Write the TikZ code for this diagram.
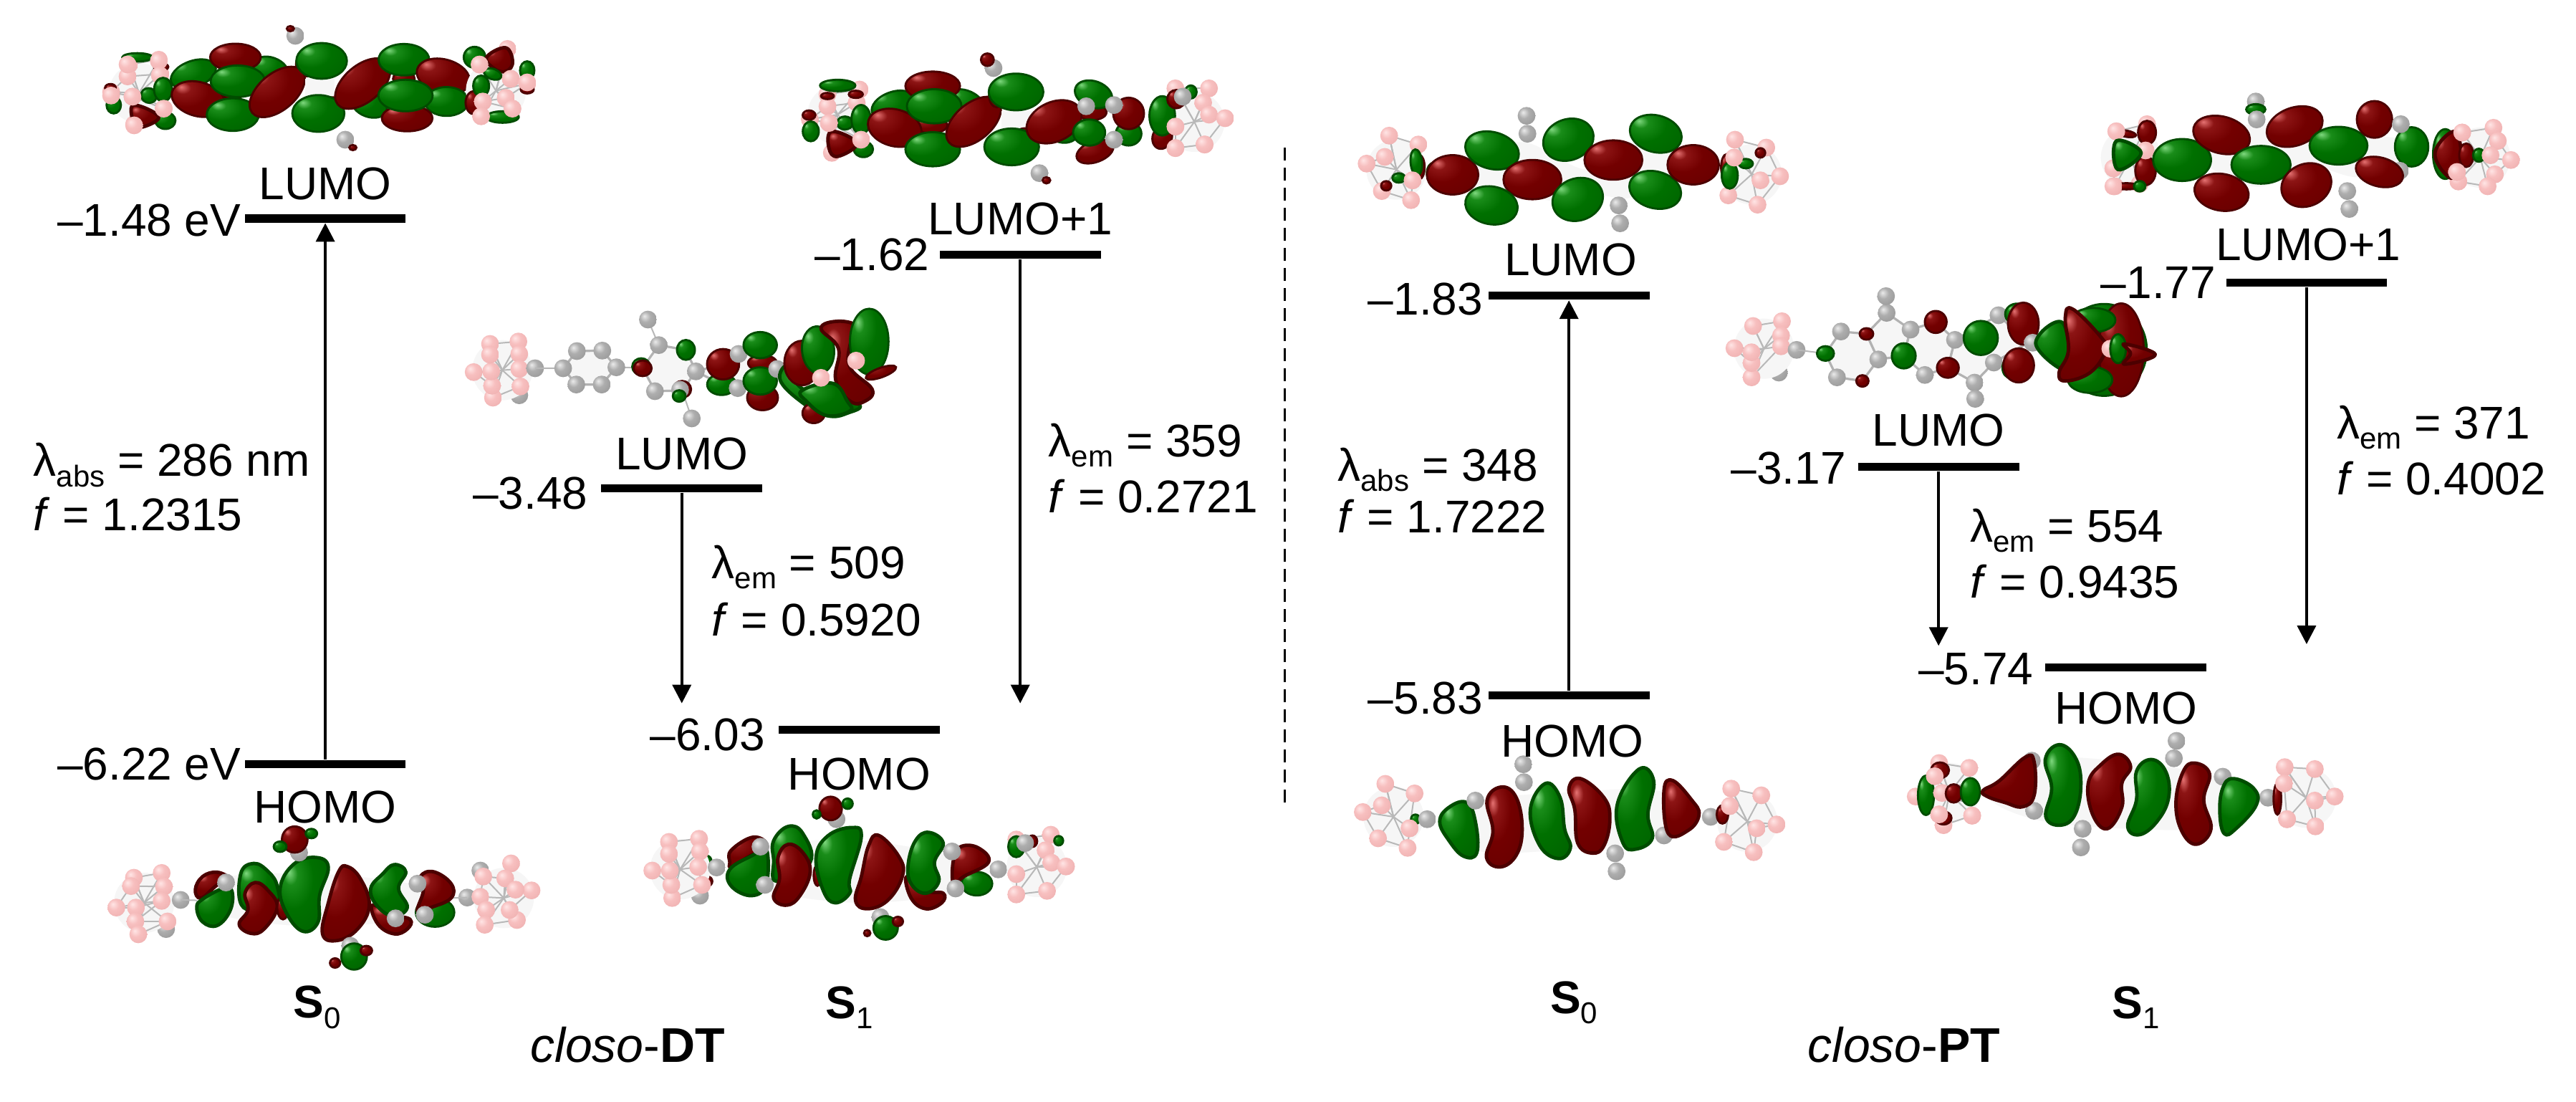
\documentclass[tikz,border=0pt]{standalone}
\usepackage{fontspec}
\setmainfont{Liberation Sans}
\usetikzlibrary{arrows.meta}
\definecolor{cagebg}{HTML}{F6F6F6}
\definecolor{rimg}{rgb}{0,.3,0}
\definecolor{rimr}{rgb}{.3,0,0}
\pgfdeclareradialshading{lg}{\pgfpoint{-15bp}{15bp}}{rgb(0bp)=(.5,.85,.5);rgb(7bp)=(.1,.55,.1);rgb(20bp)=(0,.44,0);rgb(45bp)=(0,.38,0);rgb(72bp)=(0,.2,0)}
\pgfdeclareradialshading{lr}{\pgfpoint{-15bp}{15bp}}{rgb(0bp)=(.9,.45,.45);rgb(7bp)=(.55,.08,.08);rgb(20bp)=(.45,0,0);rgb(45bp)=(.4,0,0);rgb(72bp)=(.2,0,0)}
\pgfdeclareradialshading{lp}{\pgfpoint{-10bp}{10bp}}{rgb(0bp)=(1,.9,.9);rgb(15bp)=(.97,.75,.75);rgb(40bp)=(.93,.68,.68);rgb(65bp)=(.72,.5,.5)}
\pgfdeclareradialshading{lgy}{\pgfpoint{-10bp}{10bp}}{rgb(0bp)=(.92,.92,.92);rgb(15bp)=(.68,.68,.68);rgb(40bp)=(.58,.58,.58);rgb(65bp)=(.35,.35,.35)}
\def\atr{3.1pt}
\newcommand\G[5]{\path[draw=rimg,line width=.7pt,shading=lg,shift={(#1,#2)},rotate=#5] (0,0) ellipse [x radius=#3*1.1,y radius=#4*1.1];}
\newcommand\R[5]{\path[draw=rimr,line width=.7pt,shading=lr,shift={(#1,#2)},rotate=#5] (0,0) ellipse [x radius=#3*1.1,y radius=#4*1.1];}
\newcommand\BG[1]{\path[draw=rimg,line width=1.2pt,line join=round,shading=lg] plot[smooth cycle,tension=.7] coordinates {#1};}
\newcommand\BR[1]{\path[draw=rimr,line width=1.2pt,line join=round,shading=lr] plot[smooth cycle,tension=.7] coordinates {#1};}
\newcommand\Pk[1]{\foreach \x/\y in {#1}{\path[shading=lp] (\x,\y) circle[radius=\atr];}}
\newcommand\Gy[1]{\foreach \x/\y in {#1}{\path[shading=lgy] (\x,\y) circle[radius=\atr];}}
\newcommand\cageb[3]{\fill[cagebg] (#1,#2) circle[radius=10.5pt];
 \foreach \x/\y [remember=\x as \px (initially #1),remember=\y as \py (initially #2)] in {#3}{
  \draw[bondl] (#1,#2)--(\x,\y); \draw[bondl] (\px,\py)--(\x,\y);}
 \Pk{#3}}
\newcommand\back[1]{\fill[cagebg] plot[smooth cycle,tension=.6] coordinates {#1};}
\newcommand\sbt[1]{\raisebox{-.22em}{\fontsize{10.5}{10}\selectfont #1}}
\tikzset{
 orb/.style n args={3}{shift={({#1*.25pt},{-#2*.25pt})},x={#3*.25pt/1568},y=-.08333pt},
 bondl/.style={draw=black!28,line width=.5pt},
 ringst/.style={fill=cagebg,draw=black!30,line width=.8pt},
 lvl/.style={fill=black,inner sep=0pt,minimum width=56.2pt,minimum height=2.8pt,rectangle},
 arr/.style={line width=1pt,-{Triangle[length=6.5pt,width=6.5pt]}},
 txt/.style={inner sep=0pt,font=\fontsize{16}{16}\selectfont},
 ttl/.style={inner sep=0pt,font=\fontsize{17}{17}\selectfont},
 lab/.style={txt,anchor=west},
 val/.style={txt,anchor=east},
 sepline/.style={line width=.7pt,dash pattern=on 4.5pt off 2.5pt}
}
\begin{document}
\begin{tikzpicture}[x=.573342pt,y=-.573342pt]
\path[use as bounding box,fill=white] (0,0) rectangle (1568,670.6);

% ---------- orbital 1: DT S0 LUMO
\begin{scope}[orb={100}{0}{720}]
\cageb{205}{390}{175/270,265/250,270/310,170/320,120/385,185/405,280/455,190/520}
\G{200}{240}{42}{16}{0}\R{272}{280}{20}{14}{0}\G{128}{440}{20}{32}{0}\R{118}{368}{15}{15}{0}
\Pk{170/270,265/255,268/315,120/400}
\G{235}{400}{22}{28}{-20}\G{278}{375}{25}{45}{0}\G{285}{505}{28}{32}{0}
\BR{(190,440) (265,490) (205,535) (185,500)}
\Pk{185/405,280/455,190/525}
\G{605}{290}{50}{45}{-20}\R{715}{270}{30}{45}{0}\R{490}{385}{30}{30}{0}
\G{370}{310}{65}{50}{20}\R{385}{415}{75}{65}{-15}
\R{498}{240}{70}{52}{0}\G{505}{340}{75}{60}{0}\G{490}{480}{72}{62}{0}
\R{625}{385}{90}{70}{40}
\fill[cagebg] (710,330) rectangle (800,410);
\G{760}{255}{70}{68}{0}\R{790}{440}{30}{30}{0}\G{750}{475}{72}{70}{0}
\G{905}{440}{50}{45}{-20}\R{1010}{330}{30}{30}{0}
\R{885}{350}{90}{70}{40}\G{1010}{250}{70}{60}{0}\R{1130}{320}{75}{65}{-15}
\G{1140}{425}{60}{55}{0}\R{1020}{495}{70}{50}{0}\G{1015}{400}{75}{60}{0}
\Gy{680/150,832/585}
\R{665}{120}{10}{10}{0}\R{855}{618}{10}{10}{0}
\cageb{1290}{380}{1325/205,1240/270,1335/330,1385/350,1320/410,1250/425,1340/455,1245/485}
\R{1225}{430}{25}{45}{0}\G{1225}{240}{30}{40}{0}
\BR{(1260,245) (1320,200) (1340,270) (1305,300)}
\G{1385}{295}{20}{35}{0}\G{1280}{310}{25}{20}{-20}\G{1245}{360}{22}{40}{0}\G{1310}{490}{45}{22}{0}\R{1385}{375}{18}{15}{0}
\Pk{1240/270,1335/330,1385/345,1320/410,1250/425,1340/455,1245/487}
\end{scope}

% ---------- orbital 2: DT S0 HOMO
\begin{scope}[orb={140}{1120}{640}]
\Gy{225/530}
\cageb{150}{420}{115/315,210/295,218/352,105/350,55/440,122/440,210/412,120/498,230/498,130/552}
\Gy{275/408,1255/398}
\draw[bondl] (275,408)--(340,410) (1255,398)--(1200,400);
\back{(330,400) (440,310) (760,300) (1060,340) (1200,400) (1080,480) (760,520) (440,480)}
\BR{(325,365) (350,310) (400,292) (440,320) (400,345) (345,400)}
\BG{(330,440) (350,405) (420,360) (450,370) (445,450) (400,515) (350,500)}
\Gy{430/335}
\BG{(480,300) (525,255) (575,290) (605,350) (600,430) (490,440)}
\BR{(495,380) (530,335) (575,370) (605,440) (560,530) (515,548) (475,510) (505,450)}
\R{625}{440}{18}{45}{0}
\BG{(615,360) (660,260) (735,230) (780,270) (750,390) (745,500) (695,540) (640,470)}
\BR{(815,290) (845,268) (890,320) (920,430) (880,530) (810,578) (760,550) (780,420)}
\BR{(930,430) (1000,470) (1060,490) (1050,530) (1005,550) (950,510)}
\BG{(925,360) (965,300) (1005,260) (1045,290) (1020,360) (1050,440) (1000,475) (945,430)}
\G{1145}{460}{60}{55}{0}
\BR{(1095,310) (1140,290) (1200,340) (1200,400) (1130,440) (1085,455) (1105,370)}
\Gy{1085/340,1110/470,1010/485}
\Gy{680/210}
\R{665}{155}{40}{50}{0}\G{722}{130}{18}{18}{0}\G{615}{185}{20}{20}{0}
\Gy{855/600}
\G{868}{645}{40}{50}{0}\R{910}{620}{18}{18}{0}\R{803}{672}{16}{18}{0}
\Gy{1300/285}
\cageb{1380}{400}{1405/255,1385/318,1310/310,1300/395,1320/450,1315/512,1425/492,1400/450,1475/368,1420/365}
\end{scope}

% ---------- orbital 3: DT S1 LUMO+1
\begin{scope}[orb={1100}{60}{640}]
\cageb{170}{300}{135/215,245/195,235/250,135/265,75/320,140/335,250/405,150/460}
\G{170}{178}{55}{22}{0}\R{135}{222}{20}{12}{0}\R{232}{215}{22}{14}{0}\R{72}{302}{20}{18}{0}\G{78}{370}{25}{38}{0}
\G{195}{335}{25}{25}{0}\G{250}{320}{30}{55}{0}\G{258}{445}{30}{30}{0}
\BR{(150,370) (235,420) (170,475) (140,440)}
\Pk{140/335,250/405}
\G{610}{250}{60}{45}{-25}\R{490}{345}{50}{30}{0}
\G{360}{260}{70}{50}{20}\R{365}{355}{85}{70}{-15}
\R{495}{180}{85}{55}{0}\G{500}{265}{85}{65}{0}\G{495}{445}{85}{65}{0}
\R{635}{330}{100}{70}{40}
\fill[cagebg] (730,285) rectangle (840,365);
\R{715}{220}{25}{45}{0}\G{780}{205}{85}{70}{0}\R{810}{390}{30}{30}{0}\G{765}{435}{85}{70}{0}
\Gy{703/105,860/545}
\R{682}{70}{20}{24}{0}\R{884}{575}{12}{12}{0}
\G{945}{385}{40}{30}{0}\R{1040}{290}{45}{30}{0}
\R{910}{330}{90}{75}{25}\G{1045}{215}{60}{50}{-20}
\R{1050}{455}{60}{40}{20}\G{1030}{375}{50}{50}{0}
\G{1165}{380}{40}{45}{0}\R{1165}{295}{48}{60}{0}
\Gy{1115/260,1115/405,1020/265}
\cageb{1390}{330}{1325/190,1440/190,1420/250,1440/300,1495/315,1425/425,1325/440,1325/350}
\R{1280}{395}{30}{45}{-20}\G{1280}{305}{40}{75}{0}
\R{1328}{235}{28}{35}{0}\G{1378}{205}{18}{25}{0}
\Gy{1350/225}\Pk{1325/350,1325/440,1425/425}
\end{scope}

% ---------- orbital 4: DT S1 LUMO
\begin{scope}[orb={640}{420}{640}]
\Gy{208/395}
\cageb{150}{290}{108/180,205/170,208/222,208/285,212/358,118/405,115/355,52/298,112/295,108/225}
\Gy{262/282}
\draw[bondl] (262,282)--(358,282) (540,278)--(630,280) (685,185)--(648,78) (765,375)--(798,492) (812,295)--(900,300);
\draw[ringst] (358,282)--(405,210)--(492,208)--(540,278)--(490,350)--(403,350)--cycle;
\draw[ringst] (630,280)--(685,185)--(778,205)--(812,295)--(765,375)--(672,378)--cycle;
\draw[ringst] (812,295)--(905,265)--(1032,185)--(1090,285)--(1032,335)--(900,350)--cycle;
\Gy{358/282,405/210,492/208,540/278,403/350,490/350,685/185,812/295,672/378,648/78,798/492}
\G{625}{275}{28}{32}{0}\R{630}{282}{28}{30}{0}\G{778}{205}{28}{38}{0}
\R{765}{370}{28}{32}{0}\Gy{758/372}\G{755}{398}{20}{22}{0}
\G{900}{350}{45}{40}{0}\R{905}{265}{50}{58}{0}\Gy{958/222,955/365}
\R{1040}{260}{45}{30}{0}\G{1032}{185}{52}{50}{0}\R{1040}{405}{48}{48}{0}\G{1032}{335}{52}{52}{0}
\Gy{1090/285}
\BG{(1100,330) (1130,270) (1180,370) (1365,430) (1330,470) (1260,480) (1170,420)}
\R{1215}{470}{35}{38}{0}\R{1175}{260}{55}{85}{0}
\G{1230}{205}{50}{90}{5}
\BR{(1240,115) (1300,85) (1365,110) (1340,180) (1340,280) (1415,370) (1390,420) (1340,420) (1290,330) (1300,200)}
\G{1405}{170}{60}{125}{0}
\R{1445}{300}{50}{18}{20}
\BG{(1175,375) (1280,345) (1330,420) (1340,460) (1260,480) (1190,420)}
\Pk{1240/322,1360/250}
\end{scope}

% ---------- orbital 5: DT S1 HOMO
\begin{scope}[orb={880}{1100}{640}]
\Gy{238/450}
\R{265}{390}{14}{18}{0}\G{262}{305}{14}{20}{0}
\cageb{170}{340}{132/225,235/212,238/265,232/330,245/405,143/460,140/405,75/345,135/345,132/275}
\Gy{295/332,1258/340}
\back{(340,350) (460,240) (780,220) (1100,280) (1230,340) (1100,440) (780,480) (460,430)}
\BR{(340,310) (345,260) (420,205) (465,240) (400,290) (345,330)}
\BG{(340,340) (420,280) (465,255) (465,400) (415,450) (345,410)}
\Gy{445/245,460/405}
\BG{(490,220) (540,160) (590,190) (615,310) (500,390) (490,300)}
\BR{(505,290) (540,235) (590,270) (615,350) (580,450) (535,490) (490,460) (510,380)}
\R{640}{365}{12}{40}{0}
\BG{(635,290) (675,200) (755,165) (790,200) (750,380) (750,440) (700,480) (660,430)}
\BR{(815,240) (850,198) (920,290) (930,370) (880,470) (810,505) (770,470) (790,370)}
\BR{(945,370) (1010,430) (1070,440) (1065,480) (1010,505) (960,460)}
\BG{(950,320) (975,220) (1020,185) (1070,230) (1040,310) (1055,390) (1010,440) (960,400)}
\G{1185}{400}{48}{45}{0}
\BR{(1105,300) (1130,245) (1190,250) (1225,310) (1140,370) (1105,400)}
\Gy{1100/265,1112/420}
\Gy{705/130}\R{685}{85}{35}{45}{0}\G{743}{65}{16}{20}{0}\G{637}{110}{12}{16}{0}
\Gy{855/540}\G{873}{585}{38}{45}{0}\R{915}{558}{16}{18}{0}\R{810}{607}{10}{12}{0}
\cageb{1390}{330}{1320/215,1438/195,1420/260,1440/312,1490/328,1425/430,1320/445,1320/360}
\G{1465}{220}{14}{18}{0}\R{1375}{222}{15}{22}{0}\G{1320}{245}{25}{40}{0}\Gy{1350/230}
\end{scope}

% ---------- orbital 6: PT S0 LUMO
\begin{scope}[orb={1880}{120}{640}]
\cageb{170}{350}{145/208,245/245,225/395,220/478,120/440,68/325,130/297}
\back{(430,340) (600,235) (820,350) (970,250) (1120,260) (1100,400) (960,470) (870,460) (700,480) (610,450) (430,440)}
\R{250}{340}{15}{45}{0}\G{238}{320}{18}{50}{5}\R{135}{418}{16}{18}{0}\G{178}{385}{20}{18}{0}
\Pk{225/395}
\G{298}{365}{22}{40}{0}
\R{362}{372}{80}{75}{0}
\G{497}{270}{85}{70}{-15}\G{758}{225}{80}{78}{20}
\R{635}{392}{90}{75}{0}
\G{495}{500}{82}{72}{-10}\G{790}{475}{80}{80}{20}
\R{912}{310}{90}{75}{0}
\G{1057}{200}{82}{70}{-15}\G{1055}{435}{82}{70}{-15}
\R{1185}{330}{80}{75}{0}
\Gy{615/125,618/200,930/500,935/575}
\cageb{1385}{370}{1328/225,1435/258,1482/378,1405/497,1305/458,1325/300}
\R{1300}{340}{18}{50}{0}\G{1310}{375}{25}{50}{0}\G{1365}{325}{22}{18}{0}\R{1415}{280}{15}{18}{0}
\Pk{1325/300,1415/395}
\end{scope}

% ---------- orbital 7: PT S0 HOMO
\begin{scope}[orb={1880}{1030}{640}]
\cageb{160}{330}{132/192,232/232,215/378,208/460,107/420,55/310,120/282}
\G{235}{340}{14}{18}{0}\Pk{215/378}\Gy{275/340,1245/330}
\back{(320,340) (460,260) (720,230) (1060,220) (1200,320) (1060,420) (720,470) (440,470)}
\BG{(318,350) (350,290) (410,270) (440,350) (445,480) (400,495) (350,430)}
\Gy{440/262,1085/408}
\BR{(480,260) (530,205) (580,250) (600,380) (580,490) (525,540) (478,500) (500,390)}
\BG{(628,300) (680,190) (730,250) (745,380) (765,460) (725,505) (660,450)}
\BR{(760,210) (800,170) (880,250) (900,340) (880,450) (840,482) (790,440) (780,300)}
\BG{(925,280) (1000,130) (1050,180) (1030,320) (1045,420) (990,465) (945,440)}
\BR{(1085,220) (1115,178) (1180,260) (1205,320) (1170,385) (1100,400)}
\Gy{604/110,606/185,918/483,923/558}
\cageb{1370}{350}{1315/212,1418/240,1470/362,1402/378,1392/478,1290/435,1310/285}
\R{1285}{320}{18}{35}{0}\Pk{1310/285}
\end{scope}

% ---------- orbital 8: PT S1 LUMO+1
\begin{scope}[orb={2940}{60}{640}]
\cageb{85}{480}{35/370,140/340,135/450,115/590,30/600,25/525}
\R{70}{380}{30}{12}{-10}\R{70}{600}{40}{12}{0}
\R{140}{375}{28}{45}{0}\R{135}{535}{32}{55}{0}
\Pk{35/370,135/450,25/525,25/600}
\BG{(35,410) (120,460) (40,530)}
\G{115}{600}{18}{20}{0}
\back{(260,420) (500,340) (880,380) (1100,440) (880,560) (700,520) (500,600)}
\G{260}{490}{90}{80}{0}
\R{395}{385}{90}{70}{-15}\R{645}{350}{90}{72}{20}
\G{530}{510}{92}{72}{0}
\R{395}{625}{85}{70}{-10}\R{685}{595}{80}{80}{25}
\G{795}{430}{90}{72}{0}
\R{918}{320}{55}{70}{0}\G{1045}{435}{52}{75}{0}\Gy{1008/340,1005/535}
\R{935}{540}{75}{55}{-15}
\Gy{512/245}\G{512}{278}{30}{20}{0}\Gy{515/320,825/620,832/695}
\cageb{1280}{480}{1218/375,1325/355,1340/410,1385/490,1330/550,1305/600,1205/580,1200/540}
\G{1160}{465}{38}{95}{0}
\BR{(1125,460) (1190,370) (1215,460) (1205,540) (1170,560)}
\R{1232}{470}{22}{45}{0}\G{1275}{470}{18}{25}{0}
\Pk{1218/375,1315/470,1200/540}
\end{scope}

% ---------- orbital 9: PT S1 LUMO
\begin{scope}[orb={2380}{380}{680}]
\Gy{238/420}
\cageb{190}{320}{155/225,248/205,245/265,245/310,150/440,150/380,95/318,150/335}
\Gy{295/325}
\draw[bondl] (295,325)--(388,340) (1000,300)--(1060,295) (585,170)--(583,100) (868,462)--(870,530);
\draw[ringst] (388,340)--(438,248)--(520,258)--(558,365)--(507,455)--(425,440)--cycle;
\draw[ringst] (520,258)--(585,170)--(662,240)--(640,350)--(558,365)--cycle;
\draw[ringst] (662,240)--(743,208)--(805,283)--(782,400)--(708,430)--(640,350)--cycle;
\draw[ringst] (805,283)--(945,180)--(1040,295)--(930,378)--(868,462)--(782,400)--cycle;
\Gy{438/248,425/440,558/365,585/170,583/100,662/240,708/430,805/283,930/378,868/462,870/530,945/180}
\G{388}{340}{25}{28}{0}\R{520}{258}{20}{22}{0}\R{507}{455}{18}{22}{0}
\G{640}{350}{35}{48}{0}\R{743}{208}{32}{42}{0}\R{782}{400}{32}{38}{0}
\G{888}{275}{50}{65}{0}
\G{1005}{175}{35}{40}{0}\G{985}{400}{25}{40}{0}
\R{1025}{215}{45}{80}{0}\R{1010}{390}{45}{65}{0}\Gy{1055/295}
\G{1285}{325}{125}{175}{0}\R{1340}{325}{66}{177}{0}
\BG{(1065,300) (1150,210) (1170,410)}
\G{1250}{200}{65}{46}{0}\G{1240}{450}{65}{50}{0}
\BR{(1160,190) (1185,155) (1280,280) (1290,330) (1240,420) (1160,455) (1140,420) (1170,330)}
\Pk{1305/320}
\G{1330}{320}{23}{55}{0}
\BR{(1350,300) (1450,345) (1350,385) (1370,340)}
\end{scope}

% ---------- orbital 10: PT S1 HOMO
\begin{scope}[orb={2660}{1000}{640}]
\cageb{150}{320}{115/195,218/215,228/415,130/455,115/410,35/335,100/250}
\G{70}{330}{25}{75}{0}\R{118}{225}{28}{30}{0}\Pk{100/250,125/320}
\Gy{195/320}\R{165}{322}{25}{35}{0}\G{222}{315}{30}{52}{0}\R{130}{425}{25}{25}{0}
\Pk{115/410,228/415}
\Gy{1240/340}
\back{(280,320) (450,180) (760,190) (1060,250) (1200,340) (1060,460) (760,470) (440,430)}
\Gy{432/185,440/395}
\BR{(265,310) (320,270) (410,170) (440,190) (440,330) (400,378) (340,360) (280,335)}
\BG{(478,180) (525,118) (580,170) (600,280) (580,410) (530,455) (480,420) (500,300)}
\BR{(625,280) (670,200) (730,158) (770,210) (740,280) (740,380) (690,470) (640,410)}
\BG{(790,230) (840,180) (890,230) (900,340) (860,440) (800,495) (760,460) (790,350)}
\BR{(925,360) (950,230) (990,195) (1040,240) (1020,350) (1045,470) (995,535) (945,480)}
\Gy{1085/252}
\BG{(1085,300) (1120,260) (1190,300) (1200,370) (1130,470) (1090,490) (1075,400)}
\Gy{927/102,918/175,606/470,600/548}
\cageb{1370}{340}{1297/212,1400/220,1468/335,1400/352,1402/460,1305/430,1295/280}
\R{1272}{345}{12}{60}{0}\Pk{1295/280,1305/430}
\end{scope}

% ---------- energy levels
\node[lvl] (aL) at (198,133) {};
\node[lvl] (aH) at (198,465) {};
\node[lvl] (bP) at (621,155) {};
\node[lvl] (bL) at (415,297) {};
\node[lvl] (bH) at (523,444) {};
\node[lvl] (cL) at (955,180) {};
\node[lvl] (cH) at (955,423) {};
\node[lvl] (dP) at (1404,172) {};
\node[lvl] (dL) at (1180,284) {};
\node[lvl] (dH) at (1294,406) {};
\coordinate (bPend) at (621,428);
\coordinate (bLend) at (415,428);
\coordinate (dPend) at (1404,392);
\coordinate (dLend) at (1180,393);
\coordinate (sepT) at (782,90);
\coordinate (sepB) at (782,490);
\draw[arr] (aH.north) -- (aL.south);
\draw[arr] (bP.south) -- (bPend);
\draw[arr] (bL.south) -- (bLend);
\draw[arr] (cH.north) -- (cL.south);
\draw[arr] (dP.south) -- (dPend);
\draw[arr] (dL.south) -- (dLend);
\draw[sepline] (sepT) -- (sepB);

% ---------- labels
\node[txt] (t1) at (198,112) {LUMO};
\node[val] (t2) at (147,134) {–1.48 eV};
\node[txt] (t3) at (198,491) {HOMO};
\node[val] (t4) at (147,465) {–6.22 eV};
\node[lab] (t5) at (20,283) {λ\sbt{abs} = 286 nm};
\node[lab] (t6) at (20,313) {\textit{f} = 1.2315};
\node[txt] (t7) at (621,133) {LUMO+1};
\node[val] (t8) at (566,155) {–1.62};
\node[txt] (t9) at (415,276) {LUMO};
\node[val] (t10) at (358,300) {–3.48};
\node[lab] (t11) at (638,271) {λ\sbt{em} = 359};
\node[lab] (t12) at (638,302) {\textit{f} = 0.2721};
\node[lab] (t13) at (433,345) {λ\sbt{em} = 509};
\node[lab] (t14) at (433,377) {\textit{f} = 0.5920};
\node[val] (t15) at (466,447) {–6.03};
\node[txt] (t16) at (523,471) {HOMO};
\node[txt] (t17) at (193,613) {\textbf{S}\sbt{0}};
\node[txt] (t18) at (517,613) {\textbf{S}\sbt{1}};
\node[ttl] (t19) at (382,636) {\textit{closo}-\textbf{DT}};
\node[txt] (t20) at (956,158) {LUMO};
\node[val] (t21) at (903,182) {–1.83};
\node[lab] (t22) at (814,286) {λ\sbt{abs} = 348};
\node[lab] (t23) at (814,314) {\textit{f} = 1.7222};
\node[val] (t24) at (903,425) {–5.83};
\node[txt] (t25) at (957,451) {HOMO};
\node[txt] (t26) at (1405,149) {LUMO+1};
\node[val] (t27) at (1349,172) {–1.77};
\node[txt] (t28) at (1180,262) {LUMO};
\node[val] (t29) at (1124,285) {–3.17};
\node[lab] (t30) at (1422,260) {λ\sbt{em} = 371};
\node[lab] (t31) at (1422,291) {\textit{f} = 0.4002};
\node[lab] (t32) at (1199,323) {λ\sbt{em} = 554};
\node[lab] (t33) at (1199,354) {\textit{f} = 0.9435};
\node[val] (t34) at (1238,407) {–5.74};
\node[txt] (t35) at (1294,431) {HOMO};
\node[txt] (t36) at (958,610) {\textbf{S}\sbt{0}};
\node[txt] (t37) at (1300,613) {\textbf{S}\sbt{1}};
\node[ttl] (t38) at (1159,636) {\textit{closo}-\textbf{PT}};
\end{tikzpicture}
\end{document}
